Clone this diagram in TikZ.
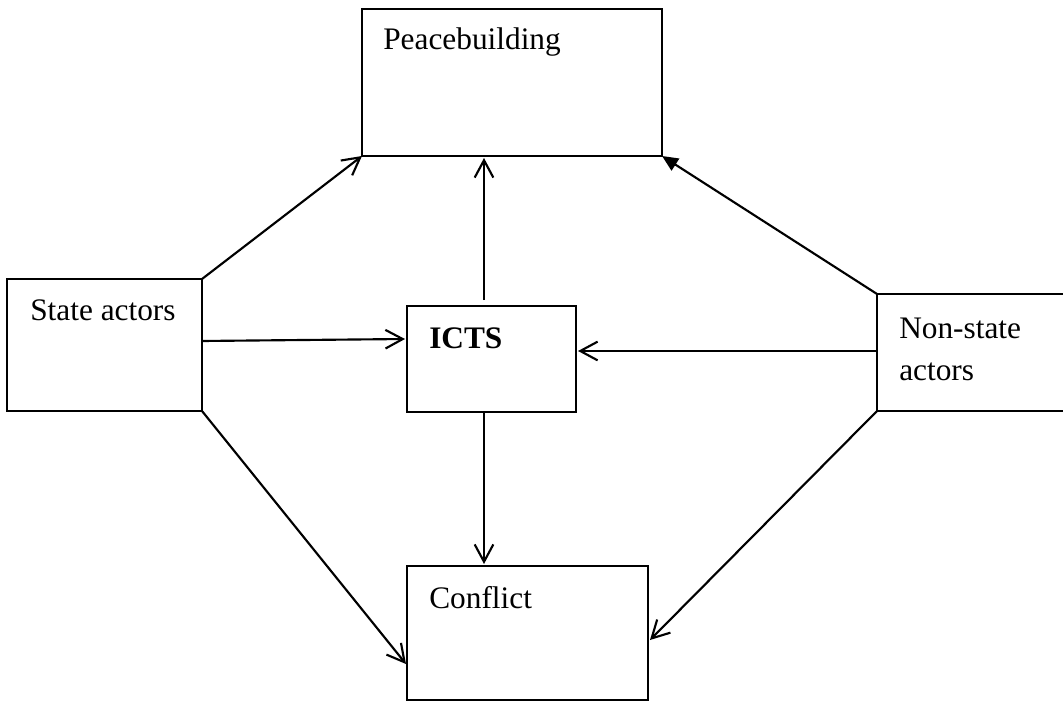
\documentclass[tikz,border=0pt]{standalone}
\usepackage{fontspec}
\setmainfont{Liberation Serif}
\usetikzlibrary{arrows.meta,calc}
\begin{document}
\begin{tikzpicture}[x=0.75pt,y=-0.75pt,
  box/.style={draw,line width=1.6pt,rectangle,anchor=north west,inner sep=0pt,outer sep=0pt},
  txt/.style={anchor=base west,inner sep=0pt,align=left,font=\fontsize{23.5pt}{31.5pt}\selectfont},
  conn/.style={line width=1.6pt,-{Straight Barb[length=13pt,width=14pt,line width=1.6pt]}},
  connf/.style={line width=1.6pt,-{Triangle[length=12pt,width=10.5pt]}}]
\useasboundingbox (0,0) rectangle (1063,702);
\clip (0,0) rectangle (1063,702);
\node[box,minimum width=225pt,minimum height=110.25pt] (peace) at (362,9) {};
\node[box,minimum width=146.25pt,minimum height=99pt] (state) at (7,279) {};
\node[box,minimum width=126.75pt,minimum height=79.5pt] (icts) at (407,306) {};
\node[box,minimum width=187.5pt,minimum height=87.75pt] (nonstate) at (877,294) {};
\node[box,minimum width=180.75pt,minimum height=100.5pt] (conflict) at (407,566) {};
\node[txt] (tpeace) at ($(peace.north west)+(21,41)$) {Peacebuilding};
\node[txt] (tstate) at ($(state.north west)+(23,41)$) {State actors};
\node[txt] (ticts) at ($(icts.north west)+(22,42)$) {\bfseries ICTS};
\node[txt] (tnon) at ($(nonstate.north west)+(22,86)$) {Non-state\\actors};
\node[txt] (tconf) at ($(conflict.north west)+(22,42)$) {Conflict};
\draw[conn] (state.north east) -- (peace.south west);
\draw[conn] ($(state.north east)+(0,62)$) -- ($(icts.north west)+(-2,33)$);
\draw[conn] (state.south east) -- ($(conflict.north west)+(-1,98)$);
\draw[conn] ($(icts.north west)+(77,-6)$) -- ($(peace.south west)+(122,2)$);
\draw[conn] ($(icts.south west)+(77,0)$) -- ($(conflict.north west)+(77,-2)$);
\draw[conn] ($(nonstate.north west)+(0,57)$) -- ($(icts.north east)+(2,45)$);
\draw[connf] (nonstate.north west) -- (peace.south east);
\draw[conn] (nonstate.south west) -- ($(conflict.north west)+(243,74)$);
\end{tikzpicture}
\end{document}
